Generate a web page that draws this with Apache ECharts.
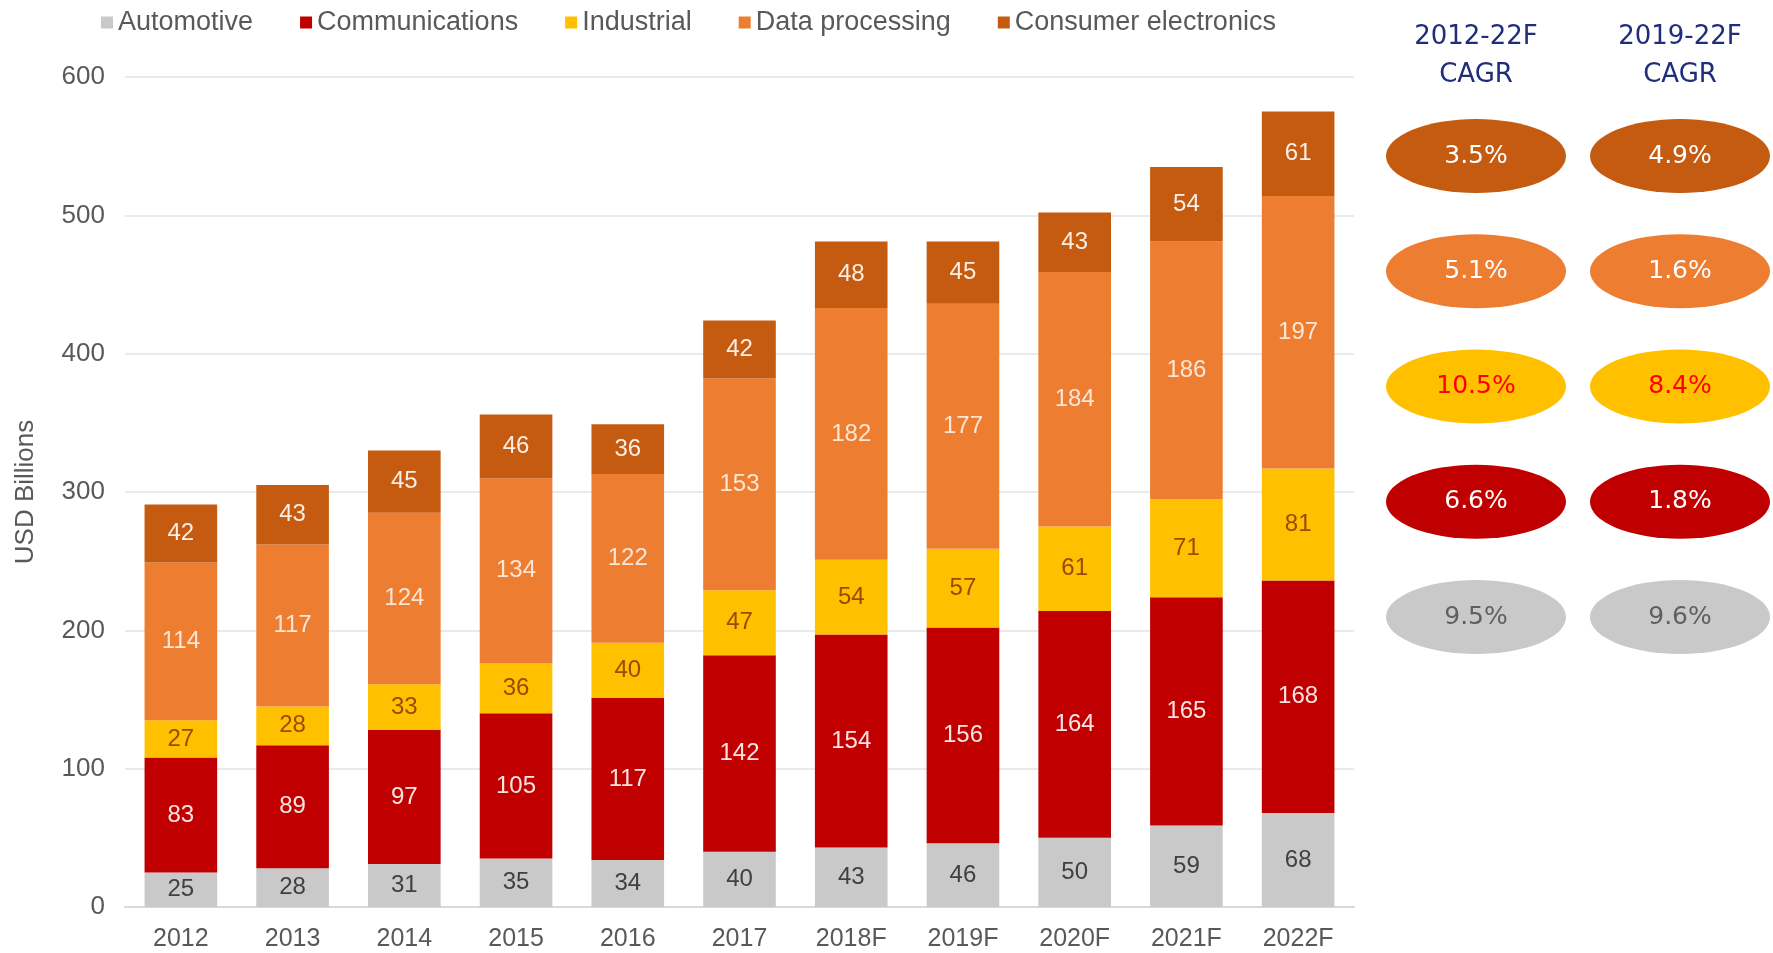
<!DOCTYPE html>
<html>
<head>
<meta charset="utf-8">
<script src="https://cdn.jsdelivr.net/npm/echarts@6/dist/echarts.min.js"></script>
<style>
    html, body { margin: 0; padding: 0; background: #fff; }
    #chart { width: 1773px; height: 953px; }
</style>
</head>
<body>
<div id="chart"></div>
<script>
    // market by segment, USD billions
    var years = ['2012', '2013', '2014', '2015', '2016', '2017', '2018F', '2019F', '2020F', '2021F', '2022F'];
    var automotive = [25, 28, 31, 35, 34, 40, 43, 46, 50, 59, 68];
    var communications = [83, 89, 97, 105, 117, 142, 154, 156, 164, 165, 168];
    var industrial = [27, 28, 33, 36, 40, 47, 54, 57, 61, 71, 81];
    var dataProcessing = [114, 117, 124, 134, 122, 153, 182, 177, 184, 186, 197];
    var consumer = [42, 43, 45, 46, 36, 42, 48, 45, 43, 54, 61];

    // CAGR side table, rows top to bottom: consumer, data processing, industrial, communications, automotive
    var cagrHeaders = ['2012-22F\nCAGR', '2019-22F\nCAGR'];
    var cagrRows = ['Consumer electronics', 'Data processing', 'Industrial', 'Communications', 'Automotive'];
    var cagr1222 = ['3.5%', '5.1%', '10.5%', '6.6%', '9.5%'];
    var cagr1922 = ['4.9%', '1.6%', '8.4%', '1.8%', '9.6%'];

    var colors = {
        'Automotive': '#C9C9C9',
        'Communications': '#C00000',
        'Industrial': '#FFC000',
        'Data processing': '#ED7D31',
        'Consumer electronics': '#C55A11'
    };
    var cagrText = {
        'Automotive': '#5f5f5f',
        'Communications': '#ffffff',
        'Industrial': '#ff0000',
        'Data processing': '#ffffff',
        'Consumer electronics': '#ffffff'
    };

    var font = '"Liberation Sans", Arial, sans-serif';
    var tableFont = '"DejaVu Sans", Tahoma, sans-serif';

    function barSeries(name, data, labelColor) {
        return {
            name: name,
            type: 'bar',
            stack: 'total',
            barWidth: '65%',
            data: data,
            itemStyle: { color: colors[name] },
            label: {
                show: true,
                position: 'inside',
                color: labelColor,
                fontFamily: font,
                fontSize: 24
            }
        };
    }

    function cagrPoints(values, col) {
        return values.map(function (v, i) {
            var name = cagrRows[i];
            return {
                value: [cagrHeaders[col], name],
                cagr: v,
                itemStyle: { color: colors[name], opacity: 1 },
                label: { color: cagrText[name] }
            };
        });
    }

    var chart = echarts.init(document.getElementById('chart'));
    chart.setOption({
        animation: false,
        legend: {
            left: 96,
            top: 4,
            itemWidth: 12,
            itemHeight: 12,
            itemGap: 47,
            icon: 'rect',
            textStyle: { color: '#595959', fontFamily: font, fontSize: 27 },
            data: ['Automotive', 'Communications', 'Industrial', 'Data processing', 'Consumer electronics']
        },
        grid: [
            { left: 125, top: 77, width: 1229, height: 830 },
            { left: 1476, top: 156, width: 204, height: 461 }
        ],
        xAxis: [
            {
                type: 'category',
                gridIndex: 0,
                data: years,
                axisTick: { show: false },
                axisLine: { lineStyle: { color: '#d9d9d9', width: 2 } },
                axisLabel: { color: '#595959', fontFamily: font, fontSize: 25, margin: 20 }
            },
            {
                type: 'category',
                gridIndex: 1,
                position: 'top',
                boundaryGap: false,
                data: cagrHeaders,
                axisTick: { show: false },
                axisLine: { show: false },
                splitLine: { show: false },
                axisLabel: { color: '#1F2D7B', fontFamily: tableFont, fontSize: 26, lineHeight: 38, margin: 62 }
            }
        ],
        yAxis: [
            {
                type: 'value',
                gridIndex: 0,
                min: 0,
                max: 600,
                interval: 100,
                name: 'USD Billions',
                nameLocation: 'middle',
                nameGap: 86,
                nameTextStyle: { color: '#595959', fontFamily: font, fontSize: 26 },
                axisLabel: { color: '#595959', fontFamily: font, fontSize: 26, margin: 20 },
                splitLine: { lineStyle: { color: '#e3e3e3', width: 1.5 } }
            },
            {
                type: 'category',
                gridIndex: 1,
                inverse: true,
                boundaryGap: false,
                data: cagrRows,
                show: false
            }
        ],
        series: [
            barSeries('Automotive', automotive, '#404040'),
            barSeries('Communications', communications, '#fbe3e3'),
            barSeries('Industrial', industrial, '#9a4b00'),
            barSeries('Data processing', dataProcessing, '#fde6d6'),
            barSeries('Consumer electronics', consumer, '#fdeee4'),
            {
                type: 'scatter',
                xAxisIndex: 1,
                yAxisIndex: 1,
                clip: false,
                symbol: 'circle',
                symbolSize: [180, 74],
                data: cagrPoints(cagr1222, 0).concat(cagrPoints(cagr1922, 1)),
                label: {
                    show: true,
                    position: 'inside',
                    fontFamily: tableFont,
                    fontSize: 25,
                    formatter: function (p) { return p.data.cagr; }
                }
            }
        ]
    });
</script>
</body>
</html>
